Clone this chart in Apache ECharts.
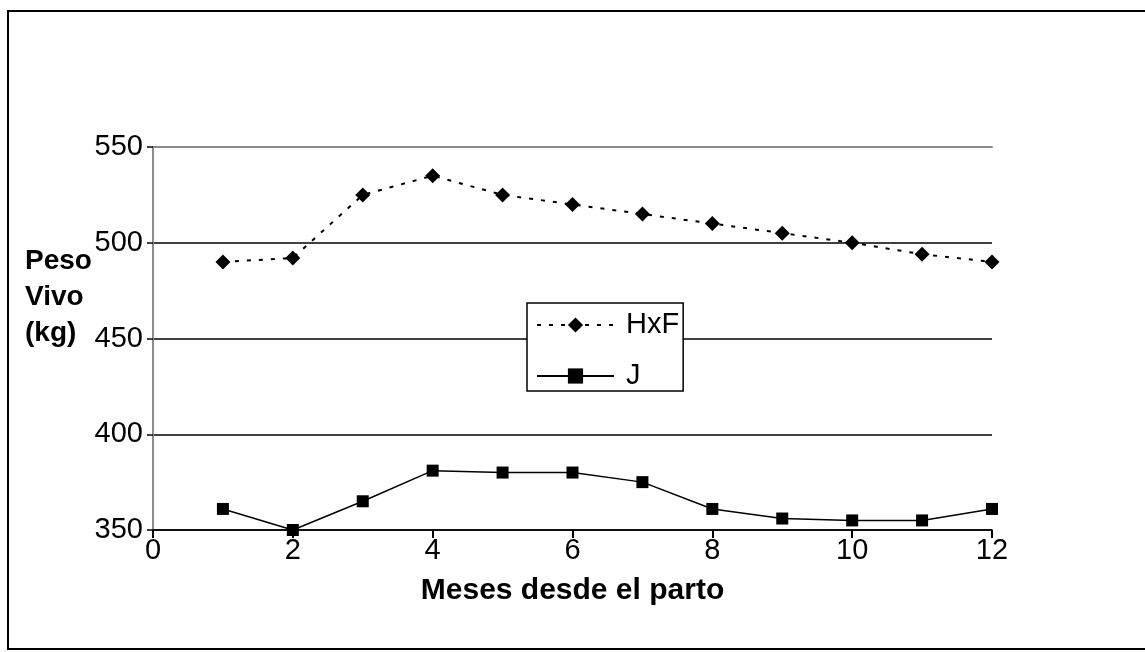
<!DOCTYPE html>
<html>
<head>
<meta charset="utf-8">
<script src="https://cdn.jsdelivr.net/npm/echarts@6/dist/echarts.min.js"></script>
<style>
  html, body { margin: 0; padding: 0; background: #fff; }
  #chart { width: 1145px; height: 652px; }
</style>
</head>
<body>
<div id="chart"></div>
<script>
// meses desde el parto
const meses = [1, 2, 3, 4, 5, 6, 7, 8, 9, 10, 11, 12];
// peso vivo (kg)
const hxf = [490, 492, 525, 535, 525, 520, 515, 510, 505, 500, 494, 490];
const jersey = [361, 350, 365, 381, 380, 380, 375, 361, 356, 355, 355, 361];
const yTicks = [350, 400, 450, 500, 550];
const xTicks = [0, 2, 4, 6, 8, 10, 12];

const font = 'Liberation Sans, Arial, sans-serif';
const chart = echarts.init(document.getElementById('chart'));

const option = {
    animation: false,
    backgroundColor: '#fff',
    grid: { left: 153, right: 153, top: 147, bottom: 122 },
    xAxis: [{
        type: 'value',
        min: xTicks[0],
        max: xTicks[xTicks.length - 1],
        interval: 2,
        name: 'Meses desde el parto',
        nameLocation: 'middle',
        nameGap: 46,
        nameTextStyle: { fontFamily: font, fontSize: 30, fontWeight: 'bold', color: '#000' },
        axisLine: { lineStyle: { color: '#000', width: 1.5 } },
        axisTick: { show: true, inside: false, length: 8, lineStyle: { color: '#000', width: 2 } },
        axisLabel: { fontFamily: font, fontSize: 29, color: '#000', margin: 6 },
        splitLine: { show: false }
    }, {
        type: 'value',
        position: 'top',
        min: 0, max: 12,
        axisLine: { show: true, lineStyle: { color: '#8c8c8c', width: 2 } },
        axisTick: { show: false },
        axisLabel: { show: false },
        splitLine: { show: false }
    }],
    yAxis: [{
        type: 'value',
        min: yTicks[0],
        max: yTicks[yTicks.length - 1],
        interval: 50,
        axisLine: { show: true, lineStyle: { color: '#000', width: 1.5 } },
        axisTick: { show: true, length: 6, lineStyle: { color: '#000', width: 1.5 } },
        axisLabel: { fontFamily: font, fontSize: 29, color: '#000', margin: 10 },
        splitLine: { show: true, lineStyle: { color: ['#000', '#000', '#000', '#000', '#8c8c8c'], width: 1.5 } }
    }, {
        type: 'value',
        position: 'right',
        min: 350, max: 550,
        axisLine: { show: true, lineStyle: { color: '#8c8c8c', width: 2 } },
        axisTick: { show: false },
        axisLabel: { show: false },
        splitLine: { show: false }
    }],
    legend: {
        orient: 'vertical',
        left: 527,
        top: 303,
        padding: [7, 4, 0, 9],
        itemGap: 21,
        itemWidth: 77,
        itemHeight: 19,
        backgroundColor: '#fff',
        borderColor: '#000',
        borderWidth: 1.5,
        borderRadius: 0,
        textStyle: { fontFamily: font, fontSize: 29, lineHeight: 30, color: '#000', padding: [0, 0, 0, 7] },
        data: ['HxF', 'J']
    },
    series: [{
        name: 'HxF',
        type: 'line',
        data: meses.map((m, i) => [m, hxf[i]]),
        symbol: 'diamond',
        symbolSize: 15,
        itemStyle: { color: '#000' },
        lineStyle: { color: '#000', width: 2, type: [4, 8] }
    }, {
        name: 'J',
        type: 'line',
        data: meses.map((m, i) => [m, jersey[i]]),
        symbol: 'rect',
        symbolSize: 12,
        itemStyle: { color: '#000' },
        lineStyle: { color: '#000', width: 1.5, type: 'solid' }
    }],
    graphic: [{
        type: 'polyline',
        shape: { points: [[1145, 11], [8, 11], [8, 649], [1145, 649]] },
        style: { stroke: '#000', lineWidth: 2, fill: null }
    }, {
        type: 'text',
        left: 25,
        top: 243,
        style: {
            text: 'Peso\nVivo\n(kg)',
            fontFamily: font,
            fontSize: 28,
            fontWeight: 'bold',
            lineHeight: 36,
            fill: '#000'
        }
    }]
};

chart.setOption(option);
</script>
</body>
</html>
